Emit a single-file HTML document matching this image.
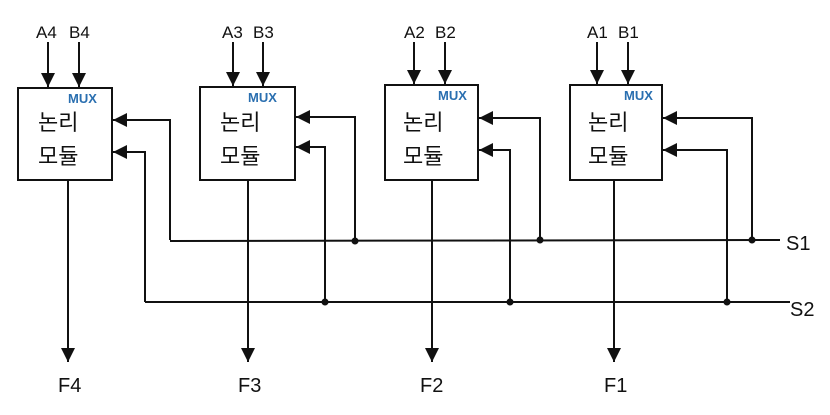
<!DOCTYPE html>
<html><head><style>body{margin:0;background:#fff}svg{display:block}</style></head><body>
<svg width="830" height="415" xmlns="http://www.w3.org/2000/svg" font-family="'Liberation Sans','Noto Sans CJK KR',sans-serif">
<defs><marker id="a" markerWidth="16" markerHeight="16" refX="14" refY="7" orient="auto" markerUnits="userSpaceOnUse"><path d="M0,0 L14,7 L0,14z" fill="#111"/></marker></defs>
<g stroke="#111" stroke-width="2" fill="none">
<rect x="18" y="88" width="94" height="92"/>
<rect x="200" y="87" width="95" height="93"/>
<rect x="385" y="85" width="93" height="95"/>
<rect x="570" y="85" width="92" height="95"/>
<g marker-end="url(#a)">
<line x1="48" y1="42" x2="48" y2="87"/><line x1="79" y1="42" x2="79" y2="87"/>
<line x1="233" y1="42" x2="233" y2="86"/><line x1="263" y1="42" x2="263" y2="86"/>
<line x1="414" y1="42" x2="414" y2="84"/><line x1="445" y1="42" x2="445" y2="84"/>
<line x1="597" y1="42" x2="597" y2="84"/><line x1="628" y1="42" x2="628" y2="84"/>
<line x1="68" y1="180" x2="68" y2="362"/><line x1="248" y1="180" x2="248" y2="362"/>
<line x1="432" y1="180" x2="432" y2="362"/><line x1="614" y1="180" x2="614" y2="362"/>
<polyline points="170,240 170,120 113,120"/><polyline points="145,302 145,152 113,152"/>
<polyline points="355,240 355,117 296,117"/><polyline points="325,302 325,147 296,147"/>
<polyline points="540,240 540,118 479,118"/><polyline points="510,302 510,150 479,150"/>
<polyline points="752,240 752,118 663,118"/><polyline points="727,302 727,150 663,150"/>
</g>
<line x1="170" y1="241" x2="780" y2="240"/>
<line x1="145" y1="302" x2="790" y2="302"/>
</g>
<g fill="#111"><circle cx="355" cy="241" r="3.5"/><circle cx="540" cy="240" r="3.5"/><circle cx="752" cy="240" r="3.5"/>
<circle cx="325" cy="302" r="3.5"/><circle cx="510" cy="302" r="3.5"/><circle cx="727" cy="302" r="3.5"/></g>
<g font-size="17" fill="#111">
<text x="36" y="38">A4</text><text x="69" y="38">B4</text>
<text x="222" y="38">A3</text><text x="253" y="38">B3</text>
<text x="404" y="38">A2</text><text x="435" y="38">B2</text>
<text x="587" y="38">A1</text><text x="618" y="38">B1</text>
<text x="58" y="392" font-size="20">F4</text><text x="238" y="392" font-size="20">F3</text>
<text x="420" y="392" font-size="20">F2</text><text x="604" y="392" font-size="20">F1</text>
<text x="786" y="250" font-size="20">S1</text><text x="790" y="316" font-size="20">S2</text>
</g>
<g font-size="13" fill="#2a6fb0" font-weight="bold">
<text x="68" y="103">MUX</text><text x="248" y="102">MUX</text><text x="438" y="100">MUX</text><text x="624" y="100">MUX</text>
</g>
<g font-size="22" fill="#111">
<text x="38" y="130">논리</text><text x="38" y="164">모듈</text>
<text x="220" y="130">논리</text><text x="220" y="164">모듈</text>
<text x="403" y="130">논리</text><text x="403" y="164">모듈</text>
<text x="588" y="130">논리</text><text x="588" y="164">모듈</text>
</g>
</svg>
</body></html>
